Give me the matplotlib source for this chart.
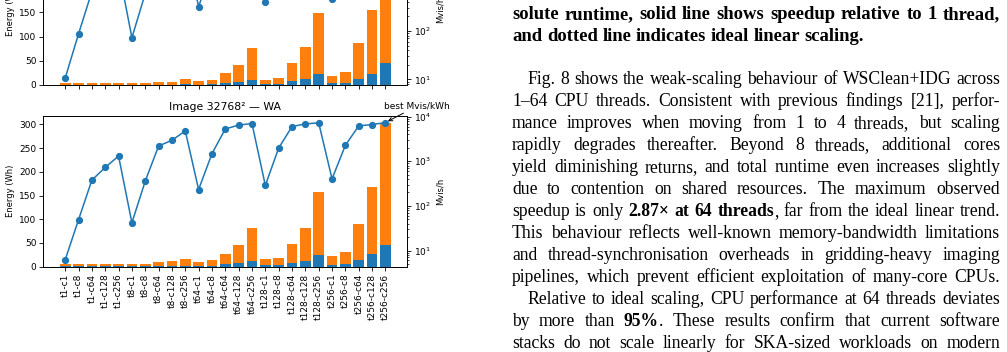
import matplotlib
matplotlib.use('Agg')
import matplotlib.pyplot as plt
import numpy as np

# ---------------- data ----------------
configs = ['t1-c1', 't1-c8', 't1-c64', 't1-c128', 't1-c256',
           't8-c1', 't8-c8', 't8-c64', 't8-c128', 't8-c256',
           't64-c1', 't64-c8', 't64-c64', 't64-c128', 't64-c256',
           't128-c1', 't128-c8', 't128-c64', 't128-c128', 't128-c256',
           't256-c1', 't256-c8', 't256-c64', 't256-c128', 't256-c256']

# upper panel (cropped at the top of the page)
top_blue = [0.5, 0.5, 0.5, 0.5, 0.5, 0.5, 0.5, 0.8, 1.0, 1.5, 1.0, 1.2, 3.5, 6.0, 11.0,
            2.0, 2.2, 7.5, 11.5, 22.7, 3.5, 4.5, 12.4, 22.7, 44.8]
top_total = [3.5, 3.5, 3.5, 3.5, 3.5, 3.5, 3.5, 5.5, 7.0, 12.5, 7.5, 9.5, 25.0, 41.0, 76.0,
             11.0, 14.5, 45.5, 79.0, 149.5, 18.0, 27.0, 87.0, 155.0, 297.0]
top_mvis = [10.6, 86.7, 650, 1100, 1900, 72.7, 590, 3000, 3800, 5600, 318, 2000, 6000, 6800, 7100,
            398, 2600, 6500, 7000, 7200, 457, 2800, 6600, 6900, 7250]

# lower panel: Image 32768^2 - WA
wa_title = 'Image 32768² — WA'
wa_blue = [0.8, 0.8, 0.8, 0.8, 0.8, 0.8, 0.8, 1.0, 1.5, 2.0, 1.5, 2.0, 5.0, 7.0, 12.5,
           3.0, 3.0, 7.5, 12.5, 24.5, 3.5, 5.0, 13.5, 26.5, 46.0]
wa_total = [5.5, 5.5, 5.5, 6.0, 6.0, 6.0, 6.0, 9.0, 12.5, 16.0, 10.5, 13.5, 27.5, 45.0, 81.0,
            16.0, 19.0, 48.0, 81.5, 157.0, 22.5, 31.0, 90.5, 168.0, 303.0]
wa_mvis = [6.2, 49, 378, 728, 1310, 42, 358, 2200, 2950, 4790, 233, 1480, 5300, 6450, 7000,
           287, 1980, 5980, 6890, 7240, 403, 2280, 6210, 6640, 7360]

caption_lines = [
    ('**solute runtime, solid line shows speedup relative to 1 thread,**', True),
    ('**and dotted line indicates ideal linear scaling.**', False),
]
body_lines = [
    'Fig. 8 shows the weak-scaling behaviour of WSClean+IDG across',
    '1–64 CPU threads. Consistent with previous findings [21], perfor-',
    'mance improves when moving from 1 to 4 threads, but scaling',
    'rapidly degrades thereafter. Beyond 8 threads, additional cores',
    'yield diminishing returns, and total runtime even increases slightly',
    'due to contention on shared resources. The maximum observed',
    'speedup is only **2.87× at 64 threads**, far from the ideal linear trend.',
    'This behaviour reflects well-known memory-bandwidth limitations',
    'and thread-synchronisation overheads in gridding-heavy imaging',
    'pipelines, which prevent efficient exploitation of many-core CPUs.',
    'Relative to ideal scaling, CPU performance at 64 threads deviates',
    'by more than **95%**. These results confirm that current software',
    'stacks do not scale linearly for SKA-sized workloads on modern',
]
indented = [0, 10]

# ---------------- figure ----------------
W, H = 1007, 352
fig = plt.figure(figsize=(W / 100, H / 100), dpi=100)
BLUE, ORANGE = '#1f77b4', '#ff7f0e'
TICK_FS, LABEL_FS, TITLE_FS = 6.5, 6.0, 7.8


def rect(l, t, r, b):
    return [l / W, 1 - b / H, (r - l) / W, (b - t) / H]


def panel(ax, blue, total, mvis, title=None, show_xlabels=True, annotate=True):
    x = np.arange(len(configs))
    blue = np.array(blue)
    orange = np.array(total) - blue
    ax.bar(x, blue, 0.8, color=BLUE)
    ax.bar(x, orange, 0.8, bottom=blue, color=ORANGE)
    ax.set_ylabel('Energy (Wh)', fontsize=LABEL_FS, labelpad=3)
    ax.set_xticks(x)
    if show_xlabels:
        ax.set_xticklabels(configs, rotation=90, fontsize=TICK_FS)
    else:
        ax.tick_params(labelbottom=False)
    ax.tick_params(labelsize=TICK_FS, length=3, width=0.6, pad=2)
    for s in ax.spines.values():
        s.set_linewidth(0.6)
    if title:
        ax.set_title(title, fontsize=TITLE_FS, pad=4)
    ax2 = ax.twinx()
    ax2.plot(x, mvis, 'o-', color=BLUE, lw=1.1, ms=4.2)
    ax2.set_yscale('log')
    ax2.set_ylabel('Mvis/h', fontsize=LABEL_FS, labelpad=3)
    ax2.tick_params(which='major', labelsize=TICK_FS, length=3, width=0.6, pad=2)
    ax2.tick_params(which='minor', length=1.7, width=0.5)
    for s in ax2.spines.values():
        s.set_linewidth(0.6)
    if annotate:
        i = len(mvis) - 1
        ax2.annotate('best Mvis/kWh', xy=(x[i], mvis[i]), xytext=(23, 12),
                     textcoords='offset points', ha='center', va='center',
                     fontsize=TICK_FS,
                     arrowprops=dict(arrowstyle='->', lw=0.7, color='black',
                                     shrinkA=0, shrinkB=2))
    return ax2


ax_top = fig.add_axes(rect(43.3, -66, 407.3, 85))
ax_bot = fig.add_axes(rect(43.3, 115.7, 407.3, 266.7))
panel(ax_top, top_blue, top_total, top_mvis, show_xlabels=False)
panel(ax_bot, wa_blue, wa_total, wa_mvis, title=wa_title)

# ---------------- justified text column ----------------
SERIF = 'Liberation Serif'
BASE_FS = 10.0
renderer = fig.canvas.get_renderer()


def parse(line):
    tokens, cur, buf, bold, i = [], [], '', False, 0
    while i < len(line):
        if line.startswith('**', i):
            if buf:
                cur.append((buf, bold))
                buf = ''
            bold = not bold
            i += 2
            continue
        c = line[i]
        if c == ' ':
            if buf:
                cur.append((buf, bold))
                buf = ''
            if cur:
                tokens.append(cur)
                cur = []
        else:
            buf += c
        i += 1
    if buf:
        cur.append((buf, bold))
    if cur:
        tokens.append(cur)
    return tokens


def make(s, bold, fs):
    t = fig.text(0, 0, s, fontsize=fs, family=SERIF,
                 fontweight='bold' if bold else 'normal', va='baseline', ha='left')
    w = t.get_window_extent(renderer).width
    return t, w


def width_of(s, bold, fs):
    t, w = make(s, bold, fs)
    t.remove()
    return w


def space_width(bold, fs):
    return width_of('n n', bold, fs) - width_of('nn', bold, fs)


def natural_width(line, fs):
    tokens = parse(line)
    tw = sum(width_of(s, b, fs) for tok in tokens for s, b in tok)
    return tw + (len(tokens) - 1) * space_width(tokens[0][0][1], fs)


def draw_line(line, x0, x1, y, justify, fs):
    tokens = parse(line)
    placed = []
    widths = []
    for tok in tokens:
        parts = []
        tw = 0
        for s, b in tok:
            t, w = make(s, b, fs)
            parts.append((t, w))
            tw += w
        placed.append(parts)
        widths.append(tw)
    if justify and len(tokens) > 1:
        gap = (x1 - x0 - sum(widths)) / (len(tokens) - 1)
    else:
        gap = space_width(tokens[0][0][1], fs)
    x = x0
    for parts, tw in zip(placed, widths):
        px = x
        for t, w in parts:
            t.set_position((px / W, 1 - y / H))
            px += w
        x += tw + gap


X0, X1 = 512, 1000
INDENT = 15.5

# size the serif text so that the tightest lines just fill the column
body_ratio = max(natural_width(l, BASE_FS) / (X1 - X0 - (INDENT if k in indented else 0))
                 for k, l in enumerate(body_lines))
body_fs = BASE_FS / body_ratio * 0.995
cap_ratio = natural_width(caption_lines[0][0], BASE_FS) / (X1 - X0)
cap_fs = BASE_FS / cap_ratio * 0.985

draw_line(caption_lines[0][0], X0, X1, 19, caption_lines[0][1], cap_fs)
draw_line(caption_lines[1][0], X0, X1, 41, caption_lines[1][1], cap_fs)
for k, line in enumerate(body_lines):
    x0 = X0 + (INDENT if k in indented else 0)
    draw_line(line, x0, X1, 84 + 22 * k, True, body_fs)

fig.savefig('out.png', dpi=100)
